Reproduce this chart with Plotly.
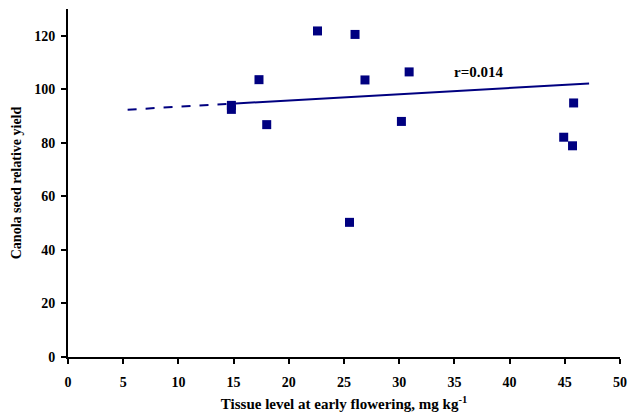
import plotly.graph_objects as go

# Data
tissue_level = [14.8, 14.8, 17.3, 18.0, 22.6, 26.0, 26.9, 30.9, 30.2, 25.5, 45.8, 44.9, 45.7]
relative_yield = [94.0, 92.5, 103.6, 86.8, 121.8, 120.5, 103.5, 106.5, 88.0, 50.3, 94.9, 82.1, 78.9]

trend_dash_x = [5.4, 14.8]
trend_dash_y = [92.4, 94.6]
trend_solid_x = [14.8, 47.2]
trend_solid_y = [94.6, 102.2]

x_ticks = [0, 5, 10, 15, 20, 25, 30, 35, 40, 45, 50]
y_ticks = [0, 20, 40, 60, 80, 100, 120]

navy = "#000080"
font_family = "Liberation Serif, Times New Roman, serif"

fig = go.Figure()
fig.add_trace(go.Scatter(x=trend_dash_x, y=trend_dash_y, mode="lines",
                         line=dict(color=navy, width=2, dash="dash"),
                         showlegend=False, hoverinfo="skip"))
fig.add_trace(go.Scatter(x=trend_solid_x, y=trend_solid_y, mode="lines",
                         line=dict(color=navy, width=2),
                         showlegend=False, hoverinfo="skip"))
fig.add_trace(go.Scatter(x=tissue_level, y=relative_yield, mode="markers",
                         marker=dict(symbol="square", size=9, color=navy),
                         showlegend=False))

fig.add_annotation(x=37.2, y=106.6, text="<b>r=0.014</b>", showarrow=False,
                   font=dict(family=font_family, size=15, color="black"))

fig.update_layout(
    width=636, height=419,
    margin=dict(l=68, r=10, t=9, b=62),
    paper_bgcolor="white", plot_bgcolor="white",
    font=dict(family=font_family, size=14, color="black"),
    xaxis=dict(range=[0, 50], tickvals=x_ticks,
               ticktext=[f"<b>{v}</b>" for v in x_ticks],
               tickfont=dict(size=14), ticklabelstandoff=6,
               showgrid=False, zeroline=False,
               showline=True, linecolor="black", linewidth=2,
               ticks="outside", ticklen=5, tickwidth=2, tickcolor="black",
               title=dict(text="<b>Tissue level at early flowering, mg kg<sup>-1</sup></b>",
                          font=dict(size=15), standoff=10)),
    yaxis=dict(range=[0, 130], tickvals=y_ticks,
               ticktext=[f"<b>{v}</b>" for v in y_ticks],
               tickfont=dict(size=14), ticklabelstandoff=3,
               showgrid=False, zeroline=False,
               showline=True, linecolor="black", linewidth=2,
               ticks="outside", ticklen=5, tickwidth=2, tickcolor="black",
               title=dict(text="<b>Canola seed relative yield</b>",
                          font=dict(size=14), standoff=9)),
)

fig.write_html("out.html")
